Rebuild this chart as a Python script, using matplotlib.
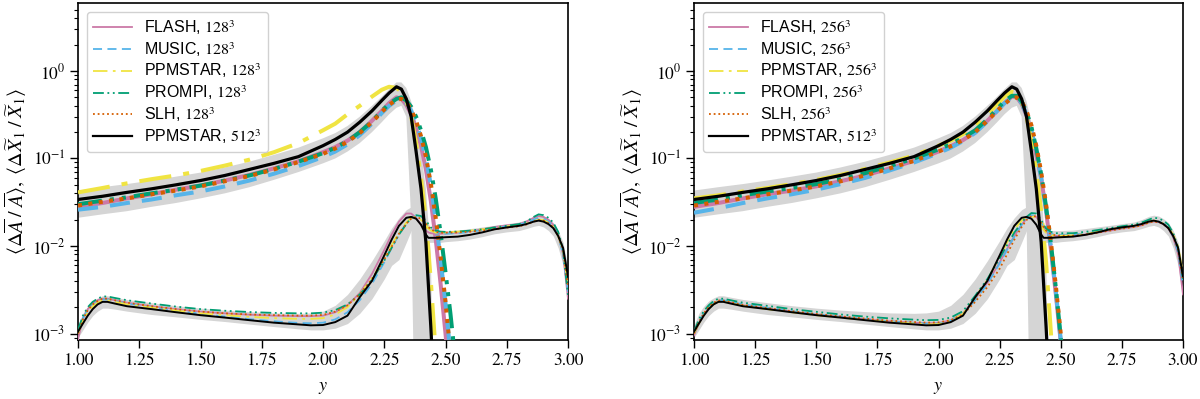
import numpy as np
import matplotlib
matplotlib.use("Agg")
import matplotlib.pyplot as plt
from matplotlib.lines import Line2D

plt.rcParams['font.family'] = ['STIXGeneral', 'DejaVu Serif']
plt.rcParams['mathtext.fontset'] = 'stix'

# ---------------- data ----------------
xu = [1.0, 1.1, 1.2, 1.3, 1.4, 1.5, 1.6, 1.7, 1.8, 1.9, 2.0, 2.05, 2.1, 2.15, 2.2, 2.24, 2.27,
      2.30, 2.32, 2.34, 2.36, 2.38, 2.40, 2.42, 2.44, 2.46, 2.48, 2.50, 2.52, 2.54, 2.56]

ref512_upper = [0.034, 0.037, 0.041, 0.045, 0.050, 0.056, 0.064, 0.075, 0.088, 0.105, 0.14, 0.165, 0.20, 0.26,
                0.35, 0.46, 0.56, 0.66, 0.62, 0.48, 0.30, 0.12, 0.045, 0.011, 0.0012, 1e-4, 1e-5, 1e-5, 1e-5, 1e-5, 1e-5]
band_upper_lo = [0.021, 0.023, 0.025, 0.028, 0.031, 0.035, 0.040, 0.047, 0.057, 0.070, 0.088, 0.10, 0.12, 0.15,
                 0.20, 0.26, 0.32, 0.38, 0.40, 0.30, 0.02, 1e-5, 1e-5, 1e-5, 1e-5, 1e-5, 1e-5, 1e-5, 1e-5, 1e-5, 1e-5]
band_upper_hi = [0.043, 0.047, 0.051, 0.056, 0.062, 0.069, 0.079, 0.092, 0.11, 0.133, 0.17, 0.195, 0.235, 0.30,
                 0.40, 0.51, 0.62, 0.74, 0.74, 0.64, 0.45, 0.26, 0.12, 0.045, 0.008, 1e-5, 1e-5, 1e-5, 1e-5, 1e-5, 1e-5]

flash128_upper = [0.028, 0.031, 0.035, 0.039, 0.044, 0.049, 0.056, 0.065, 0.077, 0.093, 0.118, 0.135, 0.16, 0.20,
                  0.27, 0.35, 0.43, 0.50, 0.48, 0.41, 0.32, 0.22, 0.14, 0.075, 0.033, 0.012, 0.0037, 0.001, 2.5e-4, 1e-5, 1e-5]
music128_upper = [0.026, 0.028, 0.031, 0.034, 0.038, 0.042, 0.048, 0.056, 0.067, 0.082, 0.104, 0.12, 0.145, 0.185,
                  0.25, 0.33, 0.40, 0.46, 0.47, 0.43, 0.35, 0.26, 0.17, 0.10, 0.05, 0.02, 0.007, 0.0022, 6e-4, 1e-4, 1e-5]
ppm128_upper = [0.041, 0.046, 0.052, 0.058, 0.064, 0.072, 0.083, 0.097, 0.118, 0.15, 0.21, 0.25, 0.32, 0.40,
                0.51, 0.61, 0.66, 0.64, 0.58, 0.46, 0.30, 0.15, 0.06, 0.02, 0.004, 6e-4, 1e-5, 1e-5, 1e-5, 1e-5, 1e-5]
prompi128_upper = [0.030, 0.033, 0.036, 0.040, 0.044, 0.049, 0.056, 0.064, 0.076, 0.092, 0.115, 0.133, 0.158, 0.20,
                   0.265, 0.35, 0.42, 0.48, 0.50, 0.46, 0.39, 0.30, 0.21, 0.135, 0.075, 0.035, 0.014, 0.005, 0.0017, 5e-4, 1e-4]
slh128_upper = [0.029, 0.032, 0.035, 0.039, 0.043, 0.048, 0.055, 0.063, 0.075, 0.091, 0.113, 0.13, 0.155, 0.195,
                0.26, 0.34, 0.41, 0.47, 0.48, 0.44, 0.36, 0.27, 0.18, 0.105, 0.052, 0.021, 0.0075, 0.0023, 6e-4, 1.2e-4, 1e-5]

flash256_upper = [0.028, 0.031, 0.035, 0.039, 0.043, 0.048, 0.055, 0.064, 0.077, 0.094, 0.12, 0.138, 0.162, 0.20,
                  0.27, 0.35, 0.43, 0.51, 0.50, 0.42, 0.31, 0.20, 0.11, 0.06, 0.025, 0.009, 0.0028, 8e-4, 1.5e-4, 1e-5, 1e-5]
music256_upper = [0.024, 0.027, 0.031, 0.035, 0.039, 0.044, 0.051, 0.060, 0.073, 0.090, 0.115, 0.133, 0.158, 0.196,
                  0.265, 0.35, 0.43, 0.50, 0.50, 0.43, 0.32, 0.21, 0.12, 0.06, 0.026, 0.0095, 0.003, 8.5e-4, 1.8e-4, 1e-5, 1e-5]
ppm256_upper = [0.035, 0.038, 0.042, 0.046, 0.051, 0.057, 0.065, 0.076, 0.09, 0.108, 0.14, 0.16, 0.19, 0.24,
                0.32, 0.42, 0.51, 0.58, 0.56, 0.45, 0.30, 0.16, 0.07, 0.025, 0.0065, 1e-3, 1e-4, 1e-5, 1e-5, 1e-5, 1e-5]
prompi256_upper = [0.031, 0.034, 0.038, 0.042, 0.046, 0.051, 0.058, 0.068, 0.082, 0.10, 0.127, 0.146, 0.172, 0.21,
                   0.28, 0.37, 0.45, 0.52, 0.52, 0.45, 0.34, 0.23, 0.13, 0.066, 0.028, 0.0105, 0.0033, 9e-4, 2e-4, 1e-5, 1e-5]
slh256_upper = [0.029, 0.032, 0.035, 0.039, 0.043, 0.048, 0.055, 0.064, 0.077, 0.094, 0.12, 0.138, 0.162, 0.20,
                0.27, 0.35, 0.42, 0.49, 0.50, 0.45, 0.35, 0.24, 0.14, 0.07, 0.03, 0.011, 0.0035, 1e-3, 2.2e-4, 1e-5, 1e-5]

xl = [1.0, 1.02, 1.04, 1.06, 1.08, 1.1, 1.12, 1.15, 1.2, 1.3, 1.4, 1.5, 1.6, 1.7, 1.8, 1.9, 1.95, 2.0, 2.05,
      2.1, 2.15, 2.2, 2.25, 2.28, 2.31, 2.34, 2.36, 2.38, 2.40, 2.42, 2.43, 2.44, 2.46, 2.48, 2.5, 2.55, 2.6,
      2.65, 2.7, 2.75, 2.8, 2.83, 2.86, 2.88, 2.9, 2.92, 2.94, 2.96, 2.98, 3.0]

ref512_lower = [1.05e-3, 1.3e-3, 1.6e-3, 1.9e-3, 2.15e-3, 2.3e-3, 2.3e-3, 2.2e-3, 2.05e-3, 1.9e-3, 1.75e-3, 1.62e-3,
                1.52e-3, 1.42e-3, 1.33e-3, 1.27e-3, 1.24e-3, 1.25e-3, 1.35e-3, 1.6e-3, 2.6e-3, 4.0e-3, 7.8e-3, 0.0118,
                0.017, 0.021, 0.0215, 0.0205, 0.0175, 0.0135, 0.0124, 0.0124, 0.0124, 0.0125, 0.0126, 0.0128, 0.0134,
                0.0143, 0.0155, 0.0163, 0.017, 0.0178, 0.019, 0.0195, 0.019, 0.0178, 0.016, 0.013, 0.0095, 0.0045]
band_lower_lo = [9e-4, 1.1e-3, 1.35e-3, 1.6e-3, 1.8e-3, 1.95e-3, 1.95e-3, 1.9e-3, 1.8e-3, 1.65e-3, 1.55e-3, 1.45e-3,
                 1.37e-3, 1.28e-3, 1.2e-3, 1.13e-3, 1.1e-3, 1.1e-3, 1.15e-3, 1.3e-3, 1.7e-3, 2.5e-3, 4.2e-3, 6e-3,
                 7e-3, 0.011, 0.015, 0.016, 0.013, 0.0115, 0.011, 0.011, 0.011, 0.011, 0.0112, 0.0115, 0.012, 0.0128,
                 0.0138, 0.0145, 0.015, 0.0158, 0.0168, 0.0172, 0.0165, 0.015, 0.013, 0.0095, 0.006, 0.0025]
band_lower_hi = [1.25e-3, 1.7e-3, 2.05e-3, 2.35e-3, 2.55e-3, 2.7e-3, 2.7e-3, 2.6e-3, 2.45e-3, 2.25e-3, 2.08e-3, 1.95e-3,
                 1.85e-3, 1.78e-3, 1.72e-3, 1.7e-3, 1.72e-3, 1.8e-3, 2.1e-3, 2.8e-3, 4.2e-3, 6.8e-3, 0.0115, 0.016,
                 0.021, 0.026, 0.028, 0.028, 0.027, 0.022, 0.018, 0.016, 0.015, 0.015, 0.015, 0.0152, 0.0158, 0.0165,
                 0.0172, 0.018, 0.0188, 0.02, 0.0218, 0.0225, 0.022, 0.0205, 0.0185, 0.015, 0.011, 0.0055]

flash128_lower = [8.5e-4, 1.5e-3, 1.9e-3, 2.2e-3, 2.4e-3, 2.5e-3, 2.5e-3, 2.4e-3, 2.25e-3, 2.05e-3, 1.9e-3, 1.78e-3,
                  1.7e-3, 1.64e-3, 1.6e-3, 1.58e-3, 1.58e-3, 1.6e-3, 1.75e-3, 2.1e-3, 2.9e-3, 4.8e-3, 9e-3, 0.0135,
                  0.019, 0.0235, 0.0235, 0.021, 0.0175, 0.015, 0.0143, 0.014, 0.0138, 0.0138, 0.0139, 0.0142, 0.0147,
                  0.0155, 0.0165, 0.0172, 0.0178, 0.019, 0.021, 0.022, 0.0215, 0.02, 0.0175, 0.0135, 0.008, 0.0025]
music128_lower = [1.0e-3, 1.5e-3, 1.85e-3, 2.1e-3, 2.3e-3, 2.45e-3, 2.45e-3, 2.35e-3, 2.2e-3, 2.0e-3, 1.82e-3, 1.68e-3,
                  1.56e-3, 1.46e-3, 1.38e-3, 1.32e-3, 1.31e-3, 1.33e-3, 1.45e-3, 1.75e-3, 2.4e-3, 3.7e-3, 6.5e-3, 9.5e-3,
                  0.0135, 0.018, 0.021, 0.022, 0.021, 0.018, 0.0165, 0.0153, 0.0142, 0.0138, 0.0138, 0.014, 0.0145,
                  0.0152, 0.016, 0.0168, 0.0175, 0.0185, 0.02, 0.021, 0.0205, 0.019, 0.0168, 0.013, 0.008, 0.003]
ppm128_lower = [1.0e-3, 1.4e-3, 1.75e-3, 2.05e-3, 2.25e-3, 2.4e-3, 2.4e-3, 2.3e-3, 2.15e-3, 1.98e-3, 1.83e-3, 1.7e-3,
                1.62e-3, 1.55e-3, 1.5e-3, 1.47e-3, 1.47e-3, 1.5e-3, 1.65e-3, 2.0e-3, 2.8e-3, 4.3e-3, 7.2e-3, 0.0102,
                0.0142, 0.0185, 0.021, 0.0215, 0.02, 0.017, 0.0158, 0.015, 0.0142, 0.0142, 0.0143, 0.0146, 0.015,
                0.0155, 0.0162, 0.0168, 0.0173, 0.018, 0.0192, 0.02, 0.0197, 0.0185, 0.0165, 0.013, 0.009, 0.0035]
prompi128_lower = [1.1e-3, 1.6e-3, 2.0e-3, 2.3e-3, 2.5e-3, 2.65e-3, 2.65e-3, 2.55e-3, 2.4e-3, 2.2e-3, 2.03e-3, 1.9e-3,
                   1.82e-3, 1.76e-3, 1.72e-3, 1.7e-3, 1.7e-3, 1.73e-3, 1.85e-3, 2.15e-3, 2.8e-3, 4.1e-3, 6.8e-3, 9.5e-3,
                   0.0135, 0.0178, 0.021, 0.0225, 0.022, 0.0195, 0.0178, 0.0163, 0.015, 0.0146, 0.0145, 0.0146, 0.015,
                   0.0155, 0.0163, 0.017, 0.0178, 0.019, 0.0215, 0.023, 0.0225, 0.021, 0.0185, 0.0145, 0.009, 0.0027]
slh128_lower = [1.0e-3, 1.45e-3, 1.85e-3, 2.15e-3, 2.35e-3, 2.5e-3, 2.5e-3, 2.4e-3, 2.25e-3, 2.05e-3, 1.9e-3, 1.78e-3,
                1.7e-3, 1.65e-3, 1.62e-3, 1.6e-3, 1.6e-3, 1.63e-3, 1.78e-3, 2.1e-3, 2.8e-3, 4.2e-3, 7.0e-3, 9.8e-3,
                0.0138, 0.018, 0.0205, 0.0215, 0.0205, 0.018, 0.0165, 0.0155, 0.0145, 0.0142, 0.0142, 0.0143, 0.0146,
                0.015, 0.0156, 0.0162, 0.0168, 0.0176, 0.019, 0.0198, 0.0195, 0.0183, 0.0163, 0.013, 0.009, 0.0035]

flash256_lower = [9.5e-4, 1.3e-3, 1.65e-3, 1.95e-3, 2.2e-3, 2.35e-3, 2.35e-3, 2.25e-3, 2.1e-3, 1.93e-3, 1.78e-3, 1.65e-3,
                  1.55e-3, 1.46e-3, 1.38e-3, 1.33e-3, 1.31e-3, 1.32e-3, 1.42e-3, 1.7e-3, 2.5e-3, 3.8e-3, 6.5e-3, 9.2e-3,
                  0.013, 0.0175, 0.0205, 0.022, 0.0215, 0.018, 0.016, 0.0145, 0.0135, 0.013, 0.013, 0.013, 0.0135,
                  0.0142, 0.015, 0.0158, 0.0165, 0.0172, 0.0185, 0.019, 0.0188, 0.0178, 0.016, 0.0125, 0.008, 0.0028]
music256_lower = [1.0e-3, 1.35e-3, 1.7e-3, 2.0e-3, 2.25e-3, 2.4e-3, 2.4e-3, 2.3e-3, 2.15e-3, 1.97e-3, 1.8e-3, 1.66e-3,
                  1.55e-3, 1.46e-3, 1.38e-3, 1.32e-3, 1.3e-3, 1.3e-3, 1.4e-3, 1.68e-3, 2.4e-3, 3.7e-3, 6.3e-3, 9.0e-3,
                  0.0128, 0.0175, 0.0205, 0.0225, 0.022, 0.0185, 0.0165, 0.015, 0.0138, 0.0134, 0.0134, 0.0135, 0.0139,
                  0.0146, 0.0154, 0.0162, 0.017, 0.0178, 0.019, 0.0195, 0.0192, 0.018, 0.0162, 0.0128, 0.0085, 0.0035]
ppm256_lower = [1.0e-3, 1.3e-3, 1.62e-3, 1.92e-3, 2.17e-3, 2.32e-3, 2.32e-3, 2.22e-3, 2.07e-3, 1.9e-3, 1.75e-3, 1.62e-3,
                1.52e-3, 1.43e-3, 1.35e-3, 1.3e-3, 1.27e-3, 1.28e-3, 1.38e-3, 1.68e-3, 2.6e-3, 4.1e-3, 7.5e-3, 0.011,
                0.0155, 0.0195, 0.0215, 0.022, 0.0205, 0.017, 0.0152, 0.0142, 0.0133, 0.0131, 0.0131, 0.0132, 0.0137,
                0.0145, 0.0155, 0.0163, 0.017, 0.0178, 0.019, 0.0195, 0.0192, 0.018, 0.0163, 0.0135, 0.01, 0.0048]
prompi256_lower = [1.05e-3, 1.45e-3, 1.8e-3, 2.1e-3, 2.35e-3, 2.5e-3, 2.5e-3, 2.4e-3, 2.25e-3, 2.07e-3, 1.9e-3, 1.77e-3,
                   1.65e-3, 1.56e-3, 1.49e-3, 1.44e-3, 1.42e-3, 1.43e-3, 1.52e-3, 1.8e-3, 2.7e-3, 4.2e-3, 7.2e-3, 0.0102,
                   0.0142, 0.0185, 0.0215, 0.0238, 0.0235, 0.02, 0.0175, 0.0158, 0.0145, 0.014, 0.014, 0.014, 0.0145,
                   0.0152, 0.016, 0.0168, 0.0176, 0.0185, 0.02, 0.021, 0.0207, 0.0195, 0.0175, 0.014, 0.0095, 0.0042]
slh256_lower = [1.0e-3, 1.35e-3, 1.7e-3, 2.0e-3, 2.25e-3, 2.38e-3, 2.38e-3, 2.28e-3, 2.12e-3, 1.95e-3, 1.8e-3, 1.67e-3,
                1.57e-3, 1.48e-3, 1.4e-3, 1.35e-3, 1.33e-3, 1.34e-3, 1.42e-3, 1.65e-3, 2.3e-3, 3.4e-3, 5.5e-3, 8.0e-3,
                0.0118, 0.0165, 0.0198, 0.022, 0.0218, 0.0185, 0.0165, 0.015, 0.0137, 0.0132, 0.0131, 0.0131, 0.0135,
                0.0142, 0.015, 0.0158, 0.0165, 0.0172, 0.0185, 0.019, 0.0188, 0.0178, 0.016, 0.013, 0.009, 0.004]

codes = ['FLASH', 'MUSIC', 'PPMSTAR', 'PROMPI', 'SLH']
xticks = [1.00, 1.25, 1.50, 1.75, 2.00, 2.25, 2.50, 2.75, 3.00]

# ---------------- styles ----------------
colors = ['#CC79A7', '#56B4E9', '#F0E442', '#009E73', '#D55E00']
styles = ['-', (0, (5, 3)), (0, (8, 3, 1.5, 3)), (0, (6, 2, 1, 2, 1, 2)), (0, (1, 1.6))]
band_color = '#d5d5d5'

panels = [
    ('128', [flash128_upper, music128_upper, ppm128_upper, prompi128_upper, slh128_upper],
     [flash128_lower, music128_lower, ppm128_lower, prompi128_lower, slh128_lower]),
    ('256', [flash256_upper, music256_upper, ppm256_upper, prompi256_upper, slh256_upper],
     [flash256_lower, music256_lower, ppm256_lower, prompi256_lower, slh256_lower]),
]

fig = plt.figure(figsize=(12, 3.99), dpi=100)
ax_rects = [[78 / 1200, 59 / 399, 490 / 1200, 337 / 399],
            [694 / 1200, 59 / 399, 489 / 1200, 337 / 399]]

ylab = (r'$\langle \Delta\overline{A}\;/\;\overline{A}\rangle,\;'
        r'\langle \Delta\widetilde{X}_1\;/\;\widetilde{X}_1\rangle$')

for rect, (res, ups, lows) in zip(ax_rects, panels):
    ax = fig.add_axes(rect)
    ax.set_yscale('log')
    ax.fill_between(xu, band_upper_lo, band_upper_hi, color=band_color, lw=0, zorder=1)
    ax.fill_between(xl, band_lower_lo, band_lower_hi, color=band_color, lw=0, zorder=1)
    for yv, c, ls in zip(ups, colors, styles):
        ax.plot(xu, yv, color=c, ls=ls, lw=2.9, zorder=3)
    for yv, c, ls in zip(lows, colors, styles):
        ax.plot(xl, yv, color=c, ls=ls, lw=1.3, zorder=3)
    ax.plot(xu, ref512_upper, color='black', lw=2.3, zorder=4)
    ax.plot(xl, ref512_lower, color='black', lw=1.4, zorder=4)

    ax.set_xlim(1.0, 3.0)
    ax.set_ylim(8.43e-4, 5.98)
    ax.set_xticks(xticks)
    ax.set_xticklabels(['%.2f' % t for t in xticks])
    ax.tick_params(axis='both', which='major', length=5.5, width=1.0, labelsize=12.5, direction='out')
    ax.tick_params(axis='both', which='minor', length=3.2, width=0.8, direction='out')
    for sp in ax.spines.values():
        sp.set_linewidth(1.2)
    ax.set_xlabel(r'$y$', fontsize=13, labelpad=8)
    ax.set_ylabel(ylab, fontsize=14.5, labelpad=2)

    handles = []
    labels = []
    for name, c, ls in zip(codes, colors, styles):
        handles.append(Line2D([], [], color=c, ls=ls, lw=1.3))
        labels.append(name + ', $' + res + '^3$')
    handles.append(Line2D([], [], color='black', lw=1.6))
    labels.append('PPMSTAR, $512^3$')
    ax.legend(handles, labels, loc='upper left', prop={'family': 'Liberation Sans', 'size': 11.5},
              handlelength=2.4, borderaxespad=0.55, labelspacing=0.2, framealpha=0.9,
              edgecolor='#cccccc')

fig.savefig('out.png', dpi=100)
